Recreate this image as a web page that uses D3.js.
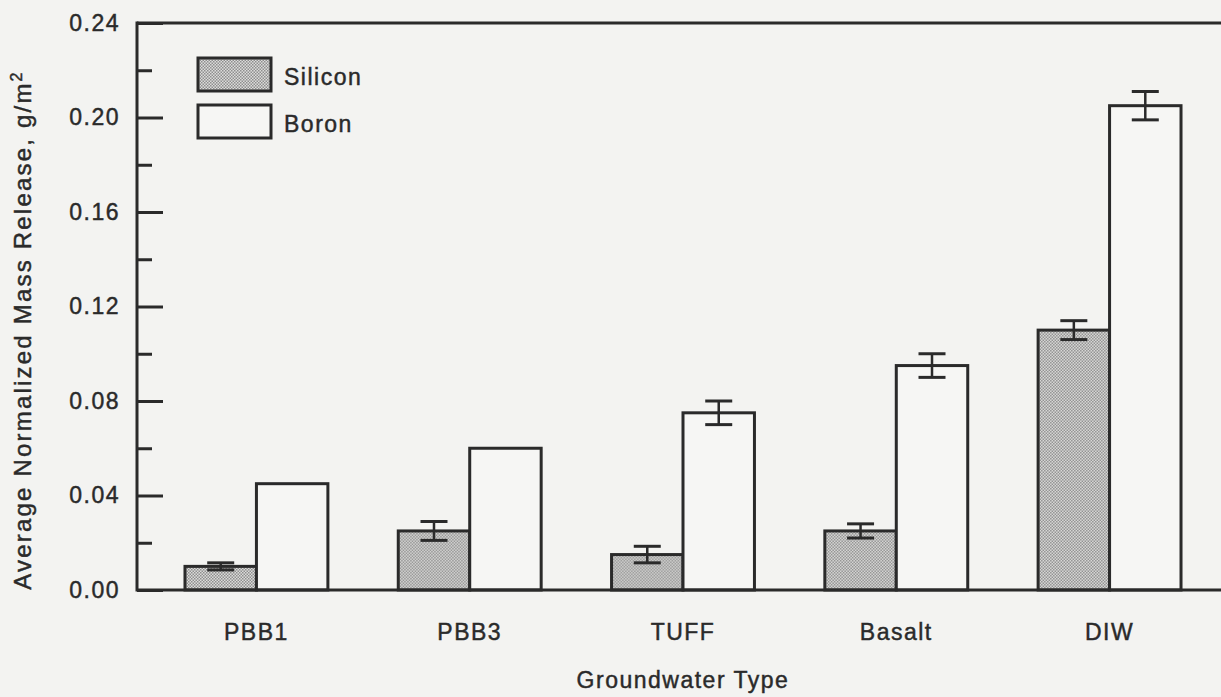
<!DOCTYPE html>
<html lang="en">
<head>
<meta charset="UTF-8">
<title>Average Normalized Mass Release by Groundwater Type</title>
<script src="https://cdn.jsdelivr.net/npm/d3@7"></script>
<style>
  body { margin: 0; background: #f3f3f1; }
  svg { font-family: "Liberation Sans", Arial, Helvetica, sans-serif; }
  svg text { stroke: #2a2a2a; stroke-width: 0.45px; }
  .axis path, .axis line { stroke: #2a2a2a; }
  .axis text { fill: #2a2a2a; font-size: 23px; letter-spacing: 1.5px; }
</style>
</head>
<body>
<div id="chart"></div>
<script>
// data
var categories = ['PBB1', 'PBB3', 'TUFF', 'Basalt', 'DIW'];
var series = ['Silicon', 'Boron'];
var siliconValues = [0.010, 0.025, 0.015, 0.025, 0.110];
var siliconErrors = [0.0015, 0.004, 0.0035, 0.003, 0.004];
var boronValues = [0.045, 0.060, 0.075, 0.095, 0.205];
var boronErrors = [0, 0, 0.005, 0.005, 0.006];
var majorTicks = [0, 0.04, 0.08, 0.12, 0.16, 0.20, 0.24];
var minorTicks = [0.02, 0.06, 0.10, 0.14, 0.18, 0.22];

var svgWidth = 1221, svgHeight = 697;
var margin = {top: 23, right: -8, bottom: 107, left: 137};
var width = svgWidth - margin.left - margin.right;
var height = svgHeight - margin.top - margin.bottom;
var ink = '#2a2a2a';

var svg = d3.select('#chart').append('svg')
    .attr('width', svgWidth)
    .attr('height', svgHeight);

// dotted fill used for silicon bars
var defs = svg.append('defs');
var pat = defs.append('pattern')
    .attr('id', 'dots')
    .attr('width', 3).attr('height', 3)
    .attr('patternUnits', 'userSpaceOnUse');
pat.append('rect').attr('width', 3).attr('height', 3).attr('fill', '#dcdcda');
pat.append('rect').attr('x', 0).attr('y', 0).attr('width', 1.5).attr('height', 1.5).attr('fill', '#8e8e8e');
pat.append('rect').attr('x', 1.5).attr('y', 1.5).attr('width', 1.5).attr('height', 1.5).attr('fill', '#8e8e8e');

var g = svg.append('g')
    .attr('transform', 'translate(' + margin.left + ',' + margin.top + ')');

var x0 = d3.scaleBand().domain(categories).range([0, width])
    .paddingInner(0.33).paddingOuter(0.225);
var x1 = d3.scaleBand().domain(series).range([0, x0.bandwidth()]);
var y = d3.scaleLinear().domain([0, 0.24]).range([height, 0]);

var rows = categories.map(function(c, i) {
  return [
    {cat: c, key: 'Silicon', value: siliconValues[i], err: siliconErrors[i]},
    {cat: c, key: 'Boron', value: boronValues[i], err: boronErrors[i]}
  ];
});

// bars
var groups = g.selectAll('.grp').data(rows).enter().append('g')
    .attr('transform', function(d) { return 'translate(' + x0(d[0].cat) + ',0)'; });

groups.selectAll('rect').data(function(d) { return d; }).enter().append('rect')
    .attr('x', function(d) { return x1(d.key); })
    .attr('y', function(d) { return y(d.value); })
    .attr('width', x1.bandwidth())
    .attr('height', function(d) { return height - y(d.value); })
    .attr('fill', function(d) { return d.key === 'Silicon' ? 'url(#dots)' : '#f6f6f4'; })
    .attr('stroke', ink)
    .attr('stroke-width', 3);

// error bars
var capW = 27;
var eb = groups.selectAll('.err').data(function(d) { return d.filter(function(e) { return e.err > 0; }); })
    .enter().append('g').attr('class', 'err');
eb.append('line')
    .attr('x1', function(d) { return x1(d.key) + x1.bandwidth() / 2; })
    .attr('x2', function(d) { return x1(d.key) + x1.bandwidth() / 2; })
    .attr('y1', function(d) { return y(d.value + d.err); })
    .attr('y2', function(d) { return y(d.value - d.err); })
    .attr('stroke', ink).attr('stroke-width', 2.5);
[1, -1].forEach(function(s) {
  eb.append('line')
      .attr('x1', function(d) { return x1(d.key) + x1.bandwidth() / 2 - capW / 2; })
      .attr('x2', function(d) { return x1(d.key) + x1.bandwidth() / 2 + capW / 2; })
      .attr('y1', function(d) { return y(d.value + s * d.err); })
      .attr('y2', function(d) { return y(d.value + s * d.err); })
      .attr('stroke', ink).attr('stroke-width', 3);
});

// y axis, ticks point inward
g.append('g').attr('class', 'axis')
    .call(d3.axisLeft(y).tickValues(majorTicks).tickSize(-26).tickPadding(17)
      .tickFormat(d3.format('.2f')))
    .call(function(a) {
      a.select('.domain').remove();
      a.selectAll('line').attr('stroke-width', 3);
    });
g.append('g').attr('class', 'axis')
    .call(d3.axisLeft(y).tickValues(minorTicks).tickSize(-15).tickFormat(''))
    .call(function(a) {
      a.select('.domain').remove();
      a.selectAll('line').attr('stroke-width', 3);
    });

// frame lines: left, top, bottom
g.append('line').attr('x1', 0).attr('x2', 0).attr('y1', -1.5).attr('y2', height + 1.5)
    .attr('stroke', ink).attr('stroke-width', 3);
g.append('line').attr('x1', 0).attr('x2', width).attr('y1', 0).attr('y2', 0)
    .attr('stroke', ink).attr('stroke-width', 3);
g.append('line').attr('x1', 0).attr('x2', width).attr('y1', height).attr('y2', height)
    .attr('stroke', ink).attr('stroke-width', 3);

// x category labels
g.append('g').attr('class', 'axis')
    .attr('transform', 'translate(0,' + height + ')')
    .call(d3.axisBottom(x0).tickSize(0).tickPadding(34))
    .call(function(a) { a.select('.domain').remove(); });

// axis titles
svg.append('text')
    .attr('x', margin.left + x0('TUFF') + x0.bandwidth() / 2)
    .attr('y', 688)
    .attr('text-anchor', 'middle')
    .attr('fill', ink)
    .style('font-size', '23px')
    .style('letter-spacing', '1.5px')
    .text('Groundwater Type');

var yt = svg.append('text')
    .attr('transform', 'translate(31,330) rotate(-90)')
    .attr('text-anchor', 'middle')
    .attr('fill', ink)
    .style('font-size', '24px')
    .style('letter-spacing', '2.2px');
yt.append('tspan').text('Average Normalized Mass Release, g/m');
yt.append('tspan').attr('dy', -9).style('font-size', '16px').text('2');

// legend
var legend = svg.append('g').attr('transform', 'translate(198,58)');
series.forEach(function(s, i) {
  var row = legend.append('g').attr('transform', 'translate(0,' + (i * 47) + ')');
  row.append('rect')
      .attr('width', 73).attr('height', 33)
      .attr('fill', s === 'Silicon' ? 'url(#dots)' : '#f6f6f4')
      .attr('stroke', ink).attr('stroke-width', 3);
  row.append('text')
      .attr('x', 86).attr('y', 27)
      .attr('fill', ink)
      .style('font-size', '23px')
      .style('letter-spacing', '1.5px')
      .text(s);
});
</script>
</body>
</html>
